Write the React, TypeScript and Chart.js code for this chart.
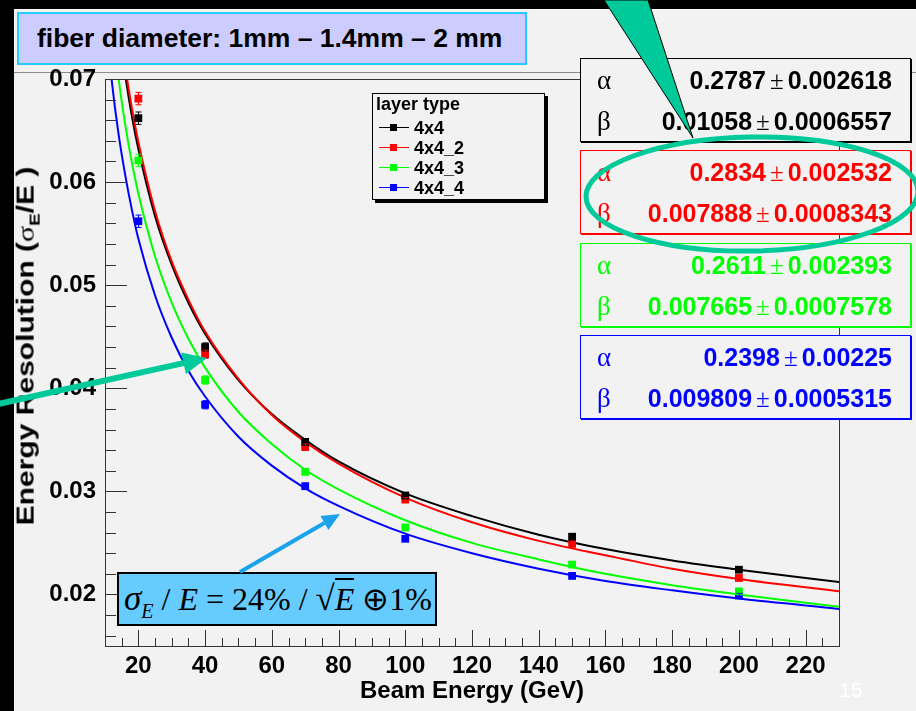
import React, { useEffect, useRef } from 'react';
import { Chart, registerables } from 'chart.js';
Chart.register(...registerables);

// ---------- data ----------
const beamEnergies = [20, 40, 70, 100, 150, 200];
const res4x4 = [0.0662, 0.0440, 0.0348, 0.0296, 0.0256, 0.0224];
const res4x4_2 = [0.0681, 0.0433, 0.0343, 0.0292, 0.0249, 0.0216];
const res4x4_3 = [0.0621, 0.0408, 0.0319, 0.0265, 0.0229, 0.0203];
const res4x4_4 = [0.0562, 0.0384, 0.0305, 0.0254, 0.0218, 0.0199];
const resErrors = [0.0006, 0.0004, 0.0003, 0.0002, 0.0002, 0.0002];

const fitEnergies = [10, 12, 14, 16, 18, 20, 25, 30, 35, 40, 50, 60, 70, 80, 100, 120, 140, 160, 180, 200, 230];
const fit4x4 = [0.0888, 0.0811, 0.0752, 0.0705, 0.0665, 0.0632, 0.0567, 0.0520, 0.0483, 0.0453, 0.0408, 0.0375, 0.0350, 0.0329, 0.0298, 0.0276, 0.0258, 0.0244, 0.0233, 0.0224, 0.0212];
const fit4x4_2 = [0.0900, 0.0822, 0.0762, 0.0713, 0.0673, 0.0639, 0.0572, 0.0523, 0.0486, 0.0455, 0.0409, 0.0374, 0.0348, 0.0327, 0.0294, 0.0270, 0.0252, 0.0238, 0.0225, 0.0215, 0.0203];
const fit4x4_3 = [0.0829, 0.0758, 0.0702, 0.0657, 0.0620, 0.0589, 0.0528, 0.0483, 0.0448, 0.0420, 0.0377, 0.0346, 0.0321, 0.0302, 0.0272, 0.0250, 0.0234, 0.0220, 0.0209, 0.0200, 0.0188];
const fit4x4_4 = [0.0765, 0.0699, 0.0648, 0.0608, 0.0574, 0.0545, 0.0490, 0.0449, 0.0417, 0.0392, 0.0353, 0.0325, 0.0303, 0.0286, 0.0259, 0.0240, 0.0225, 0.0213, 0.0204, 0.0196, 0.0186];

const seriesNames = ['4x4', '4x4_2', '4x4_3', '4x4_4'];
const seriesColors = ['#000000', '#ff0000', '#00ff00', '#0000ff'];

const alphaValues = ['0.2787', '0.2834', '0.2611', '0.2398'];
const alphaErrors = ['0.002618', '0.002532', '0.002393', '0.00225'];
const betaValues = ['0.01058', '0.007888', '0.007665', '0.009809'];
const betaErrors = ['0.0006557', '0.0008343', '0.0007578', '0.0005315'];

const yTickValues = [0.02, 0.03, 0.04, 0.05, 0.06, 0.07];
const xTickValues = [20, 40, 60, 80, 100, 120, 140, 160, 180, 200, 220];

const titleText = 'fiber diameter: 1mm \u2013 1.4mm \u2013 2 mm';
const legendTitle = 'layer type';
const xTitle = 'Beam Energy (GeV)';
const pageNumber = '15';

// ---------- layout ----------
const W = 916;
const H = 711;
const BG = '#f2f2f2';
const TEAL = '#00c99a';
const boxTops = [58, 150, 243, 335];

const pointSets = [res4x4, res4x4_2, res4x4_3, res4x4_4];
const fitSets = [fit4x4, fit4x4_2, fit4x4_3, fit4x4_4];

const rootTicksPlugin = {
  id: 'rootTicks',
  afterDatasetsDraw(chart: any) {
    const { ctx, chartArea, scales } = chart;
    const { left, right, top, bottom } = chartArea;
    const xs = scales.x;
    const ys = scales.y;
    ctx.save();
    // error bars
    chart.data.datasets.forEach((ds: any) => {
      if (!ds.errors) return;
      ctx.strokeStyle = ds.backgroundColor;
      ctx.lineWidth = 1;
      ds.data.forEach((p: any, i: number) => {
        const px = Math.round(xs.getPixelForValue(p.x)) + 0.5;
        const y1 = ys.getPixelForValue(p.y + ds.errors[i]);
        const y2 = ys.getPixelForValue(p.y - ds.errors[i]);
        ctx.beginPath();
        ctx.moveTo(px, y1);
        ctx.lineTo(px, y2);
        ctx.moveTo(px - 3, y1);
        ctx.lineTo(px + 3, y1);
        ctx.moveTo(px - 3, y2);
        ctx.lineTo(px + 3, y2);
        ctx.stroke();
      });
    });
    // frame
    ctx.strokeStyle = '#333333';
    ctx.lineWidth = 1;
    ctx.strokeRect(Math.round(left) + 0.5, Math.round(top) + 0.5, Math.round(right - left), Math.round(bottom - top));
    // y ticks (inside)
    ctx.beginPath();
    for (let k = 0; k <= 30; k++) {
      const v = 0.016 + k * 0.002;
      if (v > ys.max + 1e-9) break;
      const major = Math.abs(Math.round(v * 100) - v * 100) < 1e-6;
      const py = Math.round(ys.getPixelForValue(v)) + 0.5;
      ctx.moveTo(left, py);
      ctx.lineTo(left + (major ? 22 : 11), py);
    }
    // x ticks (inside)
    for (let e = 15; e <= xs.max; e += 5) {
      const major = e % 20 === 0;
      const px = Math.round(xs.getPixelForValue(e)) + 0.5;
      ctx.moveTo(px, bottom);
      ctx.lineTo(px, bottom - (major ? 16 : 8));
    }
    ctx.stroke();
    ctx.restore();
  },
};

function ChartCanvas() {
  const ref = useRef<HTMLCanvasElement>(null);
  useEffect(() => {
    if (!ref.current) return;
    const datasets: any[] = [];
    pointSets.forEach((vals, si) => {
      datasets.push({
        label: seriesNames[si] + ' data',
        data: beamEnergies.map((e, i) => ({ x: e, y: vals[i] })),
        errors: resErrors,
        showLine: false,
        pointStyle: 'rect',
        pointRadius: 5.5,
        pointBackgroundColor: seriesColors[si],
        backgroundColor: seriesColors[si],
        pointBorderWidth: 0,
        borderColor: seriesColors[si],
      });
    });
    [1, 0, 2, 3].forEach((si) => {
      datasets.push({
        label: seriesNames[si] + ' fit',
        data: fitEnergies.map((e, i) => ({ x: e, y: fitSets[si][i] })),
        showLine: true,
        pointRadius: 0,
        borderColor: seriesColors[si],
        backgroundColor: seriesColors[si],
        borderWidth: 2,
        cubicInterpolationMode: 'monotone',
        fill: false,
      });
    });
    const chart = new Chart(ref.current, {
      type: 'scatter',
      data: { datasets },
      plugins: [rootTicksPlugin],
      options: {
        animation: false,
        responsive: false,
        devicePixelRatio: 1,
        layout: { padding: { left: 0, right: 77, top: 79, bottom: 0 } },
        plugins: { legend: { display: false }, tooltip: { enabled: false } },
        scales: {
          x: {
            type: 'linear',
            min: 10,
            max: 230,
            afterBuildTicks: (s: any) => {
              s.ticks = xTickValues.map((v) => ({ value: v }));
            },
            afterFit: (s: any) => {
              s.height = 65;
            },
            grid: { display: false, drawTicks: false },
            border: { display: false },
            ticks: {
              color: '#000',
              padding: 6,
              maxRotation: 0,
              autoSkip: false,
              font: { family: 'Liberation Sans, Arial, sans-serif', size: 24, weight: 'bold' },
              callback: (v: any) => String(v),
            },
          },
          y: {
            type: 'linear',
            min: 0.015,
            max: 0.07,
            afterBuildTicks: (s: any) => {
              s.ticks = yTickValues.map((v) => ({ value: v }));
            },
            afterFit: (s: any) => {
              s.width = 105;
            },
            grid: { display: false, drawTicks: false },
            border: { display: false },
            ticks: {
              color: '#000',
              padding: 9,
              autoSkip: false,
              font: { family: 'Liberation Sans, Arial, sans-serif', size: 24, weight: 'bold' },
              callback: (v: any) => Number(v).toFixed(2),
            },
          },
        },
      } as any,
    });
    return () => chart.destroy();
  }, []);
  return <canvas ref={ref} width={W} height={H} style={{ position: 'absolute', left: 0, top: 0, width: W, height: H }} />;
}

const sans = 'Liberation Sans, Arial, Helvetica, sans-serif';
const serif = 'Liberation Serif, Times New Roman, serif';

function StatBox({ i }: { i: number }) {
  const c = seriesColors[i];
  const row = (sym: string, val: string, err: string, cy: number) => (
    <div style={{ position: 'absolute', left: 0, right: 0, top: cy - 15, height: 30, lineHeight: '30px', color: c }}>
      <span style={{ position: 'absolute', left: 16, fontFamily: serif, fontSize: 27 }}>{sym}</span>
      <span style={{ position: 'absolute', right: 18, fontFamily: sans, fontWeight: 'bold', fontSize: 25, whiteSpace: 'nowrap' }}>
        {val}
        <span style={{ fontFamily: serif, fontWeight: 'normal', margin: '0 4px' }}>{'\u00b1'}</span>
        {err}
      </span>
    </div>
  );
  return (
    <div style={{ position: 'absolute', left: 580, top: boxTops[i], width: 331, height: 84, border: `1px solid ${c}`, boxShadow: `1px 1px 0 ${c}`, background: BG, boxSizing: 'border-box' }}>
      {row('\u03b1', alphaValues[i], alphaErrors[i], 21)}
      {row('\u03b2', betaValues[i], betaErrors[i], 62)}
    </div>
  );
}

export default function App() {
  // arrow geometry
  const tA = { x: 207, y: 358 };
  const sA = { x: -2, y: 404 };
  const tB = { x: 340, y: 514 };
  const sB = { x: 240, y: 572 };
  const head = (s: any, t: any, len: number, hw: number) => {
    const dx = t.x - s.x, dy = t.y - s.y;
    const L = Math.hypot(dx, dy);
    const ux = dx / L, uy = dy / L;
    const bx = t.x - ux * len, by = t.y - uy * len;
    return { bx, by, pts: `${t.x},${t.y} ${bx - uy * hw},${by + ux * hw} ${bx + uy * hw},${by - ux * hw}` };
  };
  const hA = head(sA, tA, 24, 11);
  const hB = head(sB, tB, 18, 8);
  return (
    <div style={{ position: 'absolute', left: 0, top: 0, width: W, height: H, overflow: 'hidden', background: BG, fontFamily: sans }}>
      {/* slide decorations */}
      <div style={{ position: 'absolute', left: 0, top: 0, width: W, height: 9, background: '#000' }} />
      <div style={{ position: 'absolute', left: 0, top: 9, width: W, height: 1, background: '#fff' }} />
      <div style={{ position: 'absolute', left: 0, top: 0, width: 14, height: H, background: '#000' }} />
      <div style={{ position: 'absolute', left: 14, top: 72, width: W - 14, height: 1, background: '#8a8a8a' }} />

      <ChartCanvas />

      {/* axis titles */}
      <div style={{ position: 'absolute', left: 27, top: 346, transform: 'translate(-50%, -50%) scale(1, 1.25) rotate(-90deg)', whiteSpace: 'nowrap', fontWeight: 'bold', fontSize: 24, color: '#000' }}>
        Energy Resolution (<span style={{ fontWeight: 'normal', fontFamily: serif }}>{'\u03c3'}</span>
        <sub style={{ fontSize: 15 }}>E</sub>/E )
      </div>
      <div style={{ position: 'absolute', left: 472, top: 690, transform: 'translate(-50%, -50%)', whiteSpace: 'nowrap', fontWeight: 'bold', fontSize: 24, color: '#000' }}>
        {xTitle}
      </div>
      <div style={{ position: 'absolute', left: 851, top: 690, transform: 'translate(-50%, -50%)', fontSize: 21, color: '#ffffff' }}>{pageNumber}</div>

      {/* legend */}
      <div style={{ position: 'absolute', left: 372, top: 93, width: 173, height: 107, border: '1px solid #000', boxShadow: '3px 3px 0 #000', background: BG, boxSizing: 'border-box' }}>
        <div style={{ position: 'absolute', left: 3, top: 0, height: 20, lineHeight: '20px', fontWeight: 'bold', fontSize: 18 }}>{legendTitle}</div>
        {seriesNames.map((n, i) => (
          <div key={n} style={{ position: 'absolute', left: 0, top: 24 + i * 20, height: 20, width: 170 }}>
            <div style={{ position: 'absolute', left: 6, top: 9, width: 30, height: 1, background: seriesColors[i] }} />
            <div style={{ position: 'absolute', left: 17, top: 6, width: 7, height: 7, background: seriesColors[i] }} />
            <div style={{ position: 'absolute', left: 41, top: 0, lineHeight: '20px', fontWeight: 'bold', fontSize: 18 }}>{n}</div>
          </div>
        ))}
      </div>

      {/* title */}
      <div style={{ position: 'absolute', left: 17, top: 12, width: 510, height: 53, background: '#ccccff', border: '2px solid #22ccff', boxSizing: 'border-box', fontWeight: 'bold', fontSize: 26.5, lineHeight: '49px', paddingLeft: 18, whiteSpace: 'nowrap' }}>
        {titleText}
      </div>

      {/* fit parameter boxes */}
      {[0, 1, 2, 3].map((i) => (
        <StatBox key={i} i={i} />
      ))}

      {/* formula box */}
      <div style={{ position: 'absolute', left: 117, top: 572, width: 320, height: 54, background: '#66ccff', border: '2px solid #000', boxSizing: 'border-box', fontFamily: serif, fontSize: 32, lineHeight: '50px', paddingLeft: 5, whiteSpace: 'nowrap', color: '#000' }}>
        <i style={{ fontSize: 35 }}>{'\u03c3'}</i>
        <sub style={{ fontSize: 20, verticalAlign: '-8px' }}>
          <i>E</i>
        </sub>
        {' / '}
        <i>E</i>
        {' = 24% / '}
        <span style={{ fontSize: 35 }}>{'\u221a'}</span>
        <span style={{ borderTop: '2px solid #000', paddingTop: 1 }}>
          <i>E</i>
        </span>
        {' \u2295'}1%
      </div>

      {/* annotations */}
      <svg width={W} height={H} style={{ position: 'absolute', left: 0, top: 0, pointerEvents: 'none' }}>
        <polygon points="604,0 648,0 693,138" fill={TEAL} stroke="#000" strokeWidth={1} />
        <ellipse cx={752} cy={194} rx={166} ry={57} fill="none" stroke={TEAL} strokeWidth={5} transform="rotate(-1 752 194)" />
        <line x1={sA.x} y1={sA.y} x2={hA.bx} y2={hA.by} stroke={TEAL} strokeWidth={6} />
        <polygon points={hA.pts} fill={TEAL} />
        <line x1={sB.x} y1={sB.y} x2={hB.bx} y2={hB.by} stroke="#1aa3ec" strokeWidth={4} />
        <polygon points={hB.pts} fill="#1aa3ec" />
      </svg>
    </div>
  );
}
